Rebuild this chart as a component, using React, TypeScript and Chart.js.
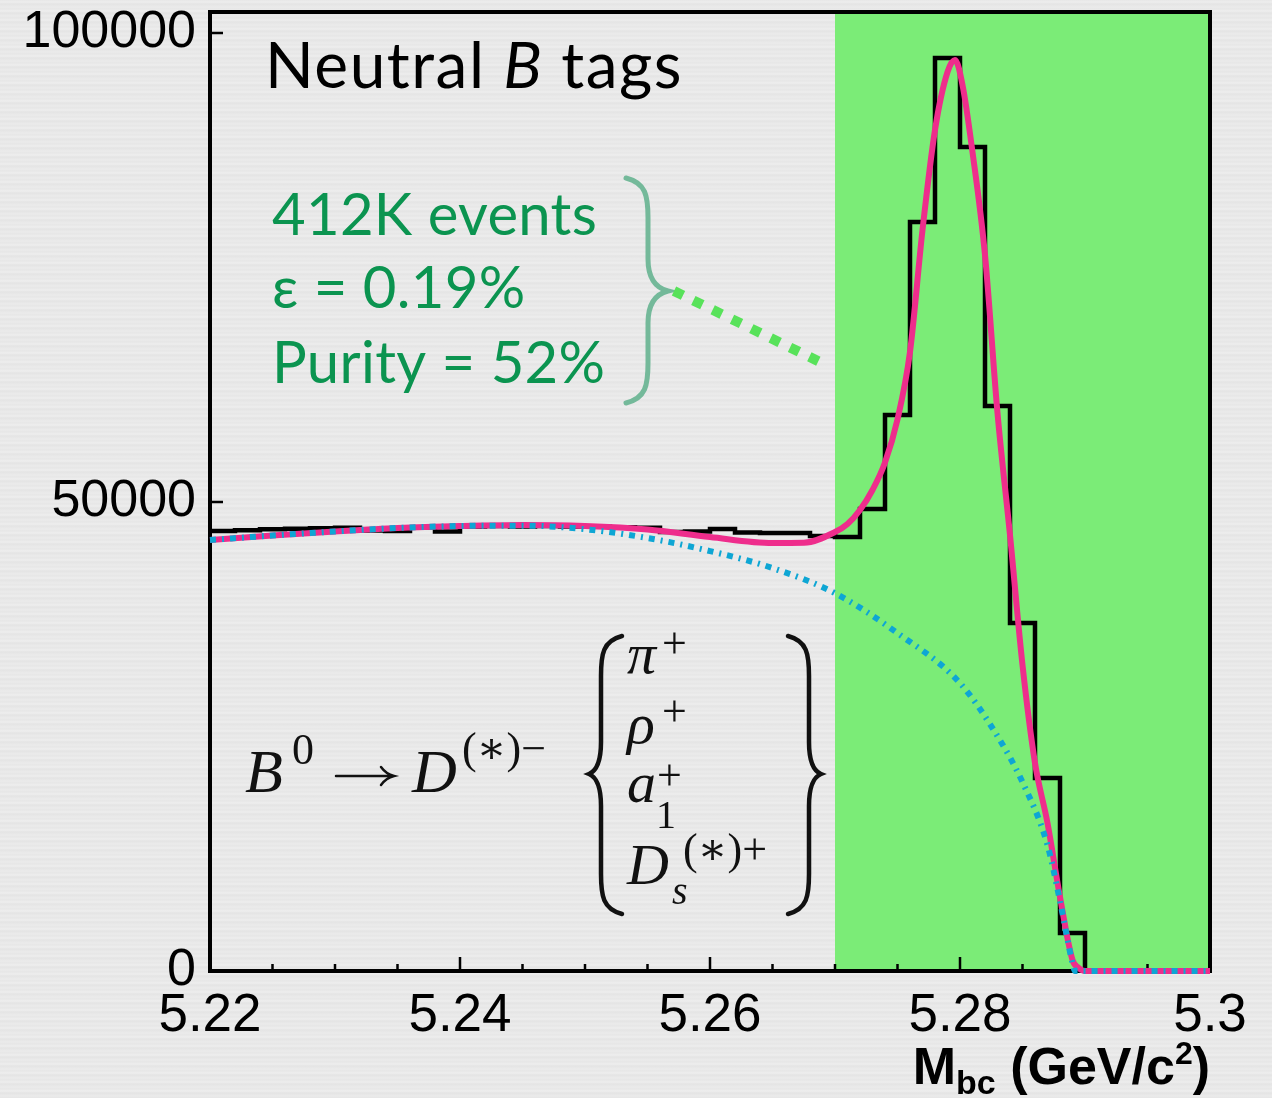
import React, { useEffect, useRef } from 'react';
import { Chart, registerables } from 'chart.js';

Chart.register(...registerables);

// ---------- data ----------
const binEdges = [
  5.22, 5.222, 5.224, 5.226, 5.228, 5.23, 5.232, 5.234, 5.236, 5.238,
  5.24, 5.242, 5.244, 5.246, 5.248, 5.25, 5.252, 5.254, 5.256, 5.258,
  5.26, 5.262, 5.264, 5.266, 5.268, 5.27, 5.272, 5.274, 5.276, 5.278,
  5.28, 5.282, 5.284, 5.286, 5.288, 5.29, 5.292, 5.294, 5.296, 5.298, 5.3,
];
const binCounts = [
  46910, 47000, 47100, 47150, 47200, 47250, 46950, 46900, 47300, 46850,
  47400, 47450, 47400, 47450, 47400, 47350, 47300, 47250, 46800, 46850,
  47120, 46750, 46700, 46700, 46380, 46270, 49250, 59270, 79850, 97330,
  87850, 60230, 37100, 20580, 4050, 0, 0, 0, 0, 0,
];

const fitX = [
  5.22, 5.225, 5.23, 5.235, 5.24, 5.245, 5.25, 5.255, 5.26, 5.265, 5.2675,
  5.27, 5.271, 5.272, 5.273, 5.274, 5.275, 5.276, 5.277, 5.278, 5.279,
  5.2796, 5.2802, 5.281, 5.282, 5.283, 5.284, 5.285, 5.286, 5.287, 5.288,
  5.289, 5.2895, 5.29, 5.3,
];
const fitY = [
  45950, 46430, 46860, 47230, 47440, 47550, 47440, 47070, 46270, 45630, 45650,
  46800, 47650, 49150, 51280, 54200, 58800, 66000, 79000, 89660, 95840,
  97120, 94460, 87310, 76330, 59490, 46480, 32620, 22170, 15780, 7890,
  1170, 320, 0, 0,
];

const bkgX = [
  5.22, 5.225, 5.23, 5.235, 5.24, 5.245, 5.25, 5.255, 5.26, 5.265, 5.27,
  5.275, 5.28, 5.283, 5.285, 5.287, 5.288, 5.289, 5.2892, 5.3,
];
const bkgY = [
  45950, 46430, 46860, 47230, 47440, 47480, 47100, 46160, 44770, 42960, 40280,
  36020, 30690, 25040, 20130, 13430, 7460, 850, 0, 0,
];

const xTickLabels = ['5.22', '5.24', '5.26', '5.28', '5.3'];
const xMajorTicks = [5.22, 5.24, 5.26, 5.28, 5.3];
const xMinorTicks = [
  5.225, 5.23, 5.235, 5.245, 5.25, 5.255, 5.265, 5.27, 5.275, 5.285, 5.29, 5.295,
];
const yTicks = [0, 50000, 100000];
const yTickLabels = ['0', '50000', '100000'];
const signalRegion = [5.27, 5.3];

const titleText = ['Neutral ', 'B', ' tags'];
const infoLines = ['412K events', '\u03b5 = 0.19%', 'Purity = 52%'];

const SANS = 'Lato, "Open Sans", sans-serif';
const ARIAL = '"Liberation Sans", Arial, sans-serif';
const SERIF = '"Liberation Serif", "DejaVu Serif", serif';

type Run = { t: string; f: string; dy?: number };
function drawRuns(ctx: CanvasRenderingContext2D, runs: Run[], x: number, y: number) {
  let cx = x;
  for (const r of runs) {
    ctx.font = r.f;
    ctx.fillText(r.t, cx, y + (r.dy || 0));
    cx += ctx.measureText(r.t).width;
  }
  return cx;
}
function runsWidth(ctx: CanvasRenderingContext2D, runs: Run[]) {
  let w = 0;
  for (const r of runs) {
    ctx.font = r.f;
    w += ctx.measureText(r.t).width;
  }
  return w;
}

function brace(ctx: CanvasRenderingContext2D, xo: number, xm: number, xt: number, top: number, mid: number, bot: number) {
  const s = Math.sign(xm - xo) || 1;
  ctx.beginPath();
  ctx.moveTo(xo, top);
  ctx.bezierCurveTo(xm - s * 2, top + 5, xm, top + 18, xm, top + 40);
  ctx.lineTo(xm, mid - 32);
  ctx.bezierCurveTo(xm, mid - 12, xm + (xt - xm) * 0.4, mid - 3, xt, mid);
  ctx.bezierCurveTo(xm + (xt - xm) * 0.4, mid + 3, xm, mid + 12, xm, mid + 32);
  ctx.lineTo(xm, bot - 40);
  ctx.bezierCurveTo(xm, bot - 18, xm - s * 2, bot - 5, xo, bot);
  ctx.stroke();
}

const annotPlugin = {
  id: 'annot',
  beforeDatasetsDraw(chart: any) {
    const { ctx, chartArea: a, scales } = chart;
    const x0 = scales.x.getPixelForValue(signalRegion[0]);
    const x1 = scales.x.getPixelForValue(signalRegion[1]);
    ctx.save();
    ctx.fillStyle = '#7bec77';
    ctx.fillRect(x0, a.top, x1 - x0, a.bottom - a.top);
    ctx.strokeStyle = '#000';
    ctx.lineWidth = 4;
    ctx.strokeRect(a.left, a.top, a.right - a.left, a.bottom - a.top);
    ctx.lineWidth = 2.5;
    ctx.beginPath();
    for (const v of xMajorTicks) {
      const px = scales.x.getPixelForValue(v);
      ctx.moveTo(px, a.bottom);
      ctx.lineTo(px, a.bottom - 14);
    }
    for (const v of xMinorTicks) {
      const px = scales.x.getPixelForValue(v);
      ctx.moveTo(px, a.bottom);
      ctx.lineTo(px, a.bottom - 7);
    }
    for (const v of yTicks) {
      const py = scales.y.getPixelForValue(v);
      ctx.moveTo(a.left, py);
      ctx.lineTo(a.left + 13, py);
    }
    ctx.stroke();
    ctx.restore();
  },
  afterDraw(chart: any) {
    const { ctx, chartArea: a } = chart;
    ctx.save();
    ctx.textBaseline = 'alphabetic';
    ctx.textAlign = 'left';

    // title
    ctx.fillStyle = '#000';
    (ctx as any).letterSpacing = '1.5px';
    drawRuns(ctx, [
      { t: titleText[0], f: `64px ${SANS}` },
      { t: titleText[1], f: `italic 64px ${SANS}` },
      { t: titleText[2], f: `64px ${SANS}` },
    ], 265, 88);

    // info lines
    (ctx as any).letterSpacing = '0.3px';
    ctx.fillStyle = '#0b9450';
    ctx.font = `58px ${SANS}`;
    ctx.fillText(infoLines[0], 272, 235);
    ctx.fillText(infoLines[1], 272, 308);
    ctx.fillText(infoLines[2], 272, 383);
    (ctx as any).letterSpacing = '0px';

    // green brace
    ctx.strokeStyle = '#74b99a';
    ctx.lineWidth = 5;
    ctx.lineCap = 'round';
    brace(ctx, 626, 648, 668, 178, 291, 403);

    // green dotted connector
    ctx.strokeStyle = '#58e25a';
    ctx.lineWidth = 10;
    ctx.lineCap = 'butt';
    ctx.setLineDash([10, 11.5]);
    ctx.beginPath();
    ctx.moveTo(674, 291);
    ctx.lineTo(822, 363);
    ctx.stroke();
    ctx.setLineDash([]);

    // formula
    ctx.fillStyle = '#111';
    const big = 62, sup = 44;
    drawRuns(ctx, [{ t: 'B', f: `italic ${big}px ${SERIF}` }], 245, 792);
    drawRuns(ctx, [{ t: '0', f: `${sup}px ${SERIF}` }], 292, 764);
    ctx.strokeStyle = '#111';
    ctx.lineWidth = 2.5;
    ctx.lineCap = 'round';
    ctx.beginPath();
    ctx.moveTo(336, 776);
    ctx.lineTo(392, 776);
    ctx.moveTo(381, 767);
    ctx.quadraticCurveTo(386, 774, 394, 776);
    ctx.quadraticCurveTo(386, 778, 381, 785);
    ctx.stroke();
    drawRuns(ctx, [{ t: 'D', f: `italic ${big}px ${SERIF}` }], 412, 792);
    drawRuns(ctx, [{ t: '(\u2217)\u2212', f: `${sup}px ${SERIF}` }], 462, 763);

    ctx.lineWidth = 4.5;
    brace(ctx, 622, 601, 589, 636, 774, 914);
    brace(ctx, 788, 809, 821, 636, 774, 914);

    const it = `italic 58px ${SERIF}`;
    const sm = `44px ${SERIF}`;
    const smi = `italic 40px ${SERIF}`;
    drawRuns(ctx, [{ t: '\u03c0', f: it }], 627, 673);
    drawRuns(ctx, [{ t: '+', f: sm }], 662, 658);
    drawRuns(ctx, [{ t: '\u03c1', f: it }], 627, 743);
    drawRuns(ctx, [{ t: '+', f: sm }], 662, 726);
    drawRuns(ctx, [{ t: 'a', f: it }], 627, 802);
    drawRuns(ctx, [{ t: '+', f: sm }], 657, 790);
    drawRuns(ctx, [{ t: '1', f: `40px ${SERIF}` }], 656, 828);
    drawRuns(ctx, [{ t: 'D', f: it }], 627, 884);
    drawRuns(ctx, [{ t: 's', f: smi }], 672, 904);
    drawRuns(ctx, [{ t: '(\u2217)+', f: sm }], 683, 864);

    // x-axis title
    ctx.fillStyle = '#000';
    const runs: Run[] = [
      { t: 'M', f: `bold 52px ${ARIAL}` },
      { t: 'bc', f: `bold 34px ${ARIAL}`, dy: 10 },
      { t: ' (GeV/c', f: `bold 52px ${ARIAL}` },
      { t: '2', f: `bold 32px ${ARIAL}`, dy: -20 },
      { t: ')', f: `bold 52px ${ARIAL}` },
    ];
    const w = runsWidth(ctx, runs);
    drawRuns(ctx, runs, a.right - w, 1084);
    ctx.restore();
  },
};

export default function App() {
  const ref = useRef<HTMLCanvasElement>(null);
  useEffect(() => {
    document.body.style.margin = '0';
    const histData = binEdges.map((e, i) => ({ x: e, y: i < binCounts.length ? binCounts[i] : binCounts[binCounts.length - 1] }));
    const fitData = fitX.map((x, i) => ({ x, y: fitY[i] }));
    const bkgData = bkgX.map((x, i) => ({ x, y: bkgY[i] }));
    const chart = new Chart(ref.current!, {
      type: 'line',
      data: {
        datasets: [
          {
            label: 'Background',
            data: bkgData,
            borderColor: '#0ea6d4',
            borderWidth: 6,
            borderDash: [6, 6, 2, 6],
            borderCapStyle: 'butt',
            pointRadius: 0,
            cubicInterpolationMode: 'monotone',
            fill: false,
            clip: 4,
            order: 1,
          },
          {
            label: 'Fit',
            data: fitData,
            borderColor: '#ee2d8c',
            borderWidth: 6,
            pointRadius: 0,
            cubicInterpolationMode: 'monotone',
            fill: false,
            clip: 4,
            order: 2,
          },
          {
            label: 'Data',
            data: histData,
            borderColor: '#000',
            borderWidth: 4.5,
            pointRadius: 0,
            stepped: 'before',
            fill: false,
            order: 3,
          },
        ],
      },
      options: {
        responsive: false,
        animation: false,
        events: [],
        layout: { padding: { top: 12, right: 62, left: 0, bottom: 0 } },
        plugins: { legend: { display: false }, tooltip: { enabled: false }, title: { display: false } },
        scales: {
          x: {
            type: 'linear',
            min: 5.22,
            max: 5.3,
            border: { display: false },
            grid: { display: false, drawTicks: false },
            afterBuildTicks: (s: any) => { s.ticks = xMajorTicks.map((v) => ({ value: v })); },
            afterFit: (s: any) => { s.height = 127; s.paddingLeft = 0; s.paddingRight = 0; },
            ticks: {
              padding: 14,
              maxRotation: 0,
              autoSkip: false,
              color: '#000',
              font: { family: '"Liberation Sans", Arial, sans-serif', size: 53 },
              callback: (v: any) => xTickLabels[xMajorTicks.findIndex((t) => Math.abs(t - v) < 1e-9)] ?? '',
            },
          },
          y: {
            type: 'linear',
            min: 0,
            max: 102240,
            border: { display: false },
            grid: { display: false, drawTicks: false },
            afterBuildTicks: (s: any) => { s.ticks = yTicks.map((v) => ({ value: v })); },
            afterFit: (s: any) => { s.width = 210; s.paddingTop = 0; s.paddingBottom = 0; },
            ticks: {
              padding: 14,
              autoSkip: false,
              color: '#000',
              font: { family: '"Liberation Sans", Arial, sans-serif', size: 52 },
              callback: (v: any) => yTickLabels[yTicks.indexOf(v)] ?? '',
            },
          },
        },
      },
      plugins: [annotPlugin],
    } as any);
    return () => chart.destroy();
  }, []);
  return (
    <div
      style={{
        width: 1272,
        height: 1098,
        background:
          'repeating-linear-gradient(180deg, #e7e7e7 0px, #eeeeee 2px, #e4e4e4 4px, #ebebeb 7px, #e6e6e6 9px)',
      }}
    >
      <canvas ref={ref} width={1272} height={1098} style={{ display: 'block' }} />
    </div>
  );
}
